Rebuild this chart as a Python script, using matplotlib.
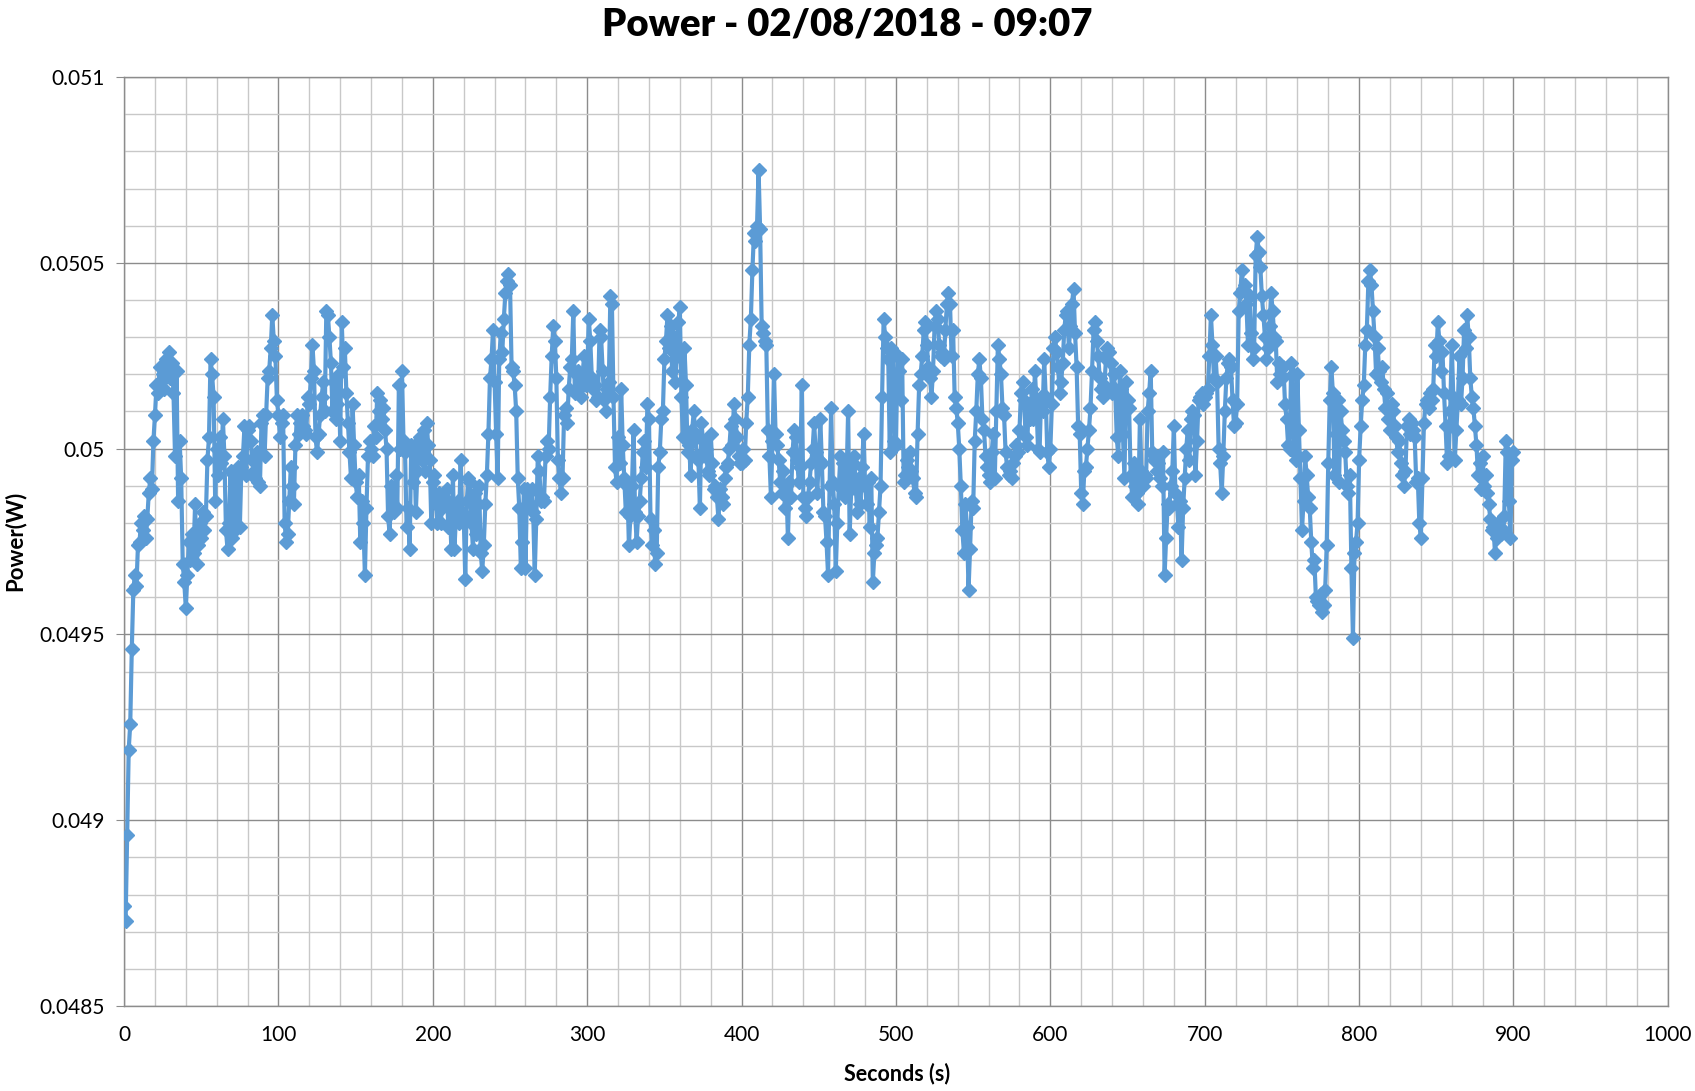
import numpy as np
import matplotlib.pyplot as plt
from matplotlib.ticker import MultipleLocator, FuncFormatter

plt.rcParams['font.family'] = ['Lato', 'DejaVu Sans']

title = 'Power - 02/08/2018 - 09:07'
x_label = 'Seconds (s)'
y_label = 'Power(W)'

# power readings in mW, one per second (0..900 s)
power_mw = [
    48.77, 48.73, 48.96, 49.19, 49.26, 49.46, 49.62, 49.66, 49.63, 49.74, 49.75, 49.80, 49.78, 49.82, 49.76, 49.81, 49.88, 49.92, 49.89, 50.02,
    50.09, 50.17, 50.15, 50.22, 50.18, 50.20, 50.16, 50.24, 50.21, 50.26, 50.19, 50.23, 50.15, 49.98, 50.21, 49.86, 50.02, 49.92, 49.69, 49.64,
    49.57, 49.66, 49.75, 49.70, 49.77, 49.72, 49.85, 49.69, 49.74, 49.80, 49.76, 49.83, 49.78, 49.82, 49.97, 50.03, 50.24, 50.20, 50.14, 49.86,
    50.00, 49.93, 50.03, 49.96, 50.08, 49.98, 49.78, 49.73, 49.80, 49.94, 49.76, 49.93, 49.78, 49.94, 49.95, 49.79, 49.95, 49.98, 50.06, 49.93,
    50.05, 50.06, 50.02, 49.97, 49.94, 49.92, 49.99, 49.91, 49.90, 50.07, 50.09, 49.98, 50.09, 50.19, 50.21, 50.27, 50.36, 50.29, 50.25, 50.13,
    50.09, 50.03, 50.07, 50.09, 49.80, 49.75, 49.77, 49.86, 49.95, 49.90, 49.85, 50.01, 50.09, 50.04, 50.07, 50.09, 50.06, 50.05, 50.04, 50.14,
    50.12, 50.19, 50.28, 50.21, 50.03, 49.99, 50.04, 50.09, 50.14, 50.18, 50.10, 50.37, 50.36, 50.30, 50.23, 50.10, 50.18, 50.08, 50.12, 50.20,
    50.02, 50.34, 50.22, 50.27, 50.15, 50.07, 49.99, 49.92, 50.12, 50.01, 49.91, 49.87, 49.93, 49.75, 49.86, 49.80, 49.66, 49.84, 49.98, 50.02,
    50.00, 49.98, 50.06, 50.03, 50.15, 50.10, 50.13, 50.08, 50.11, 50.05, 50.00, 49.82, 49.77, 49.90, 49.84, 49.83, 49.93, 49.84, 50.17, 50.00,
    50.21, 50.02, 49.99, 49.79, 49.84, 49.73, 50.01, 49.91, 50.00, 49.83, 49.94, 50.02, 50.03, 49.97, 50.05, 49.94, 50.07, 50.01, 49.97, 49.80,
    49.91, 49.93, 49.85, 49.80, 49.88, 49.80, 49.84, 49.87, 49.86, 49.89, 49.79, 49.84, 49.73, 49.93, 49.73, 49.82, 49.86, 49.80, 49.97, 49.83,
    49.82, 49.65, 49.86, 49.92, 49.91, 49.80, 49.73, 49.88, 49.77, 49.85, 49.90, 49.72, 49.67, 49.74, 49.85, 49.93, 50.04, 50.19, 50.24, 50.32,
    50.18, 50.04, 49.92, 50.24, 50.31, 50.26, 50.35, 50.42, 50.45, 50.47, 50.44, 50.22, 50.21, 50.17, 50.10, 49.92, 49.84, 49.68, 49.75, 49.89,
    49.68, 49.89, 49.88, 49.85, 49.89, 49.83, 49.66, 49.81, 49.98, 49.94, 49.86, 49.87, 49.86, 49.98, 50.02, 50.00, 50.14, 50.25, 50.33, 50.29,
    50.19, 49.97, 49.92, 49.88, 49.92, 50.09, 50.11, 50.07, 50.16, 50.22, 50.24, 50.37, 50.15, 50.20, 50.21, 50.16, 50.14, 50.20, 50.25, 50.17,
    50.20, 50.35, 50.29, 50.19, 50.16, 50.17, 50.13, 50.14, 50.32, 50.30, 50.21, 50.13, 50.10, 50.16, 50.18, 50.41, 50.39, 50.14, 49.95, 49.91,
    50.03, 49.96, 50.16, 50.01, 49.92, 49.83, 49.90, 49.74, 49.82, 49.90, 50.05, 49.83, 49.75, 49.82, 49.86, 49.92, 49.99, 50.02, 49.95, 50.12,
    50.08, 49.81, 49.74, 49.78, 49.69, 49.72, 49.95, 49.99, 50.08, 50.10, 50.24, 50.29, 50.36, 50.27, 50.33, 50.21, 50.30, 50.18, 50.25, 50.34,
    50.38, 50.14, 50.03, 50.27, 50.17, 49.99, 50.01, 49.93, 50.05, 50.10, 50.04, 49.98, 49.97, 49.84, 50.07, 50.02, 49.98, 50.00, 49.94, 49.93,
    50.04, 49.96, 49.89, 49.90, 49.87, 49.81, 49.89, 49.87, 49.85, 49.92, 49.95, 49.96, 50.00, 50.06, 50.01, 50.12, 50.08, 50.03, 49.98, 49.96,
    49.96, 50.00, 49.97, 50.07, 50.14, 50.28, 50.35, 50.48, 50.58, 50.56, 50.60, 50.75, 50.59, 50.33, 50.31, 50.29, 50.28, 50.05, 49.98, 49.87,
    50.02, 50.20, 50.04, 50.01, 49.97, 49.91, 49.88, 49.94, 49.84, 49.90, 49.76, 49.91, 49.87, 49.99, 50.05, 50.03, 49.97, 49.91, 49.95, 50.17,
    49.87, 49.84, 49.82, 49.87, 49.91, 49.96, 50.00, 50.07, 49.99, 49.88, 49.97, 50.08, 49.96, 49.83, 49.82, 49.75, 49.66, 49.90, 50.11, 49.91,
    49.85, 49.67, 49.80, 49.90, 49.98, 49.89, 49.96, 49.87, 49.92, 50.10, 49.77, 49.89, 49.96, 49.98, 49.89, 49.83, 49.92, 49.85, 49.95, 50.04,
    49.90, 49.85, 49.91, 49.79, 49.92, 49.64, 49.72, 49.74, 49.76, 49.83, 49.90, 50.14, 50.35, 50.30, 50.27, 50.24, 49.99, 50.27, 50.25, 50.02,
    50.01, 50.25, 50.21, 50.13, 50.24, 49.91, 49.93, 49.97, 49.95, 49.99, 49.94, 49.92, 49.88, 49.87, 50.04, 50.17, 50.20, 50.25, 50.32, 50.34,
    50.28, 50.22, 50.19, 50.14, 50.21, 50.33, 50.37, 50.35, 50.28, 50.25, 50.26, 50.24, 50.32, 50.39, 50.42, 50.39, 50.25, 50.32, 50.14, 50.11,
    50.07, 50.00, 49.90, 49.78, 49.72, 49.85, 49.79, 49.62, 49.73, 49.86, 49.84, 50.02, 50.10, 50.20, 50.24, 50.19, 50.08, 50.05, 49.98, 49.95,
    49.93, 49.91, 49.99, 50.04, 49.92, 50.10, 50.28, 50.24, 50.20, 50.11, 50.09, 49.99, 49.95, 49.93, 49.94, 49.92, 49.96, 49.98, 50.01, 49.99,
    50.05, 50.15, 50.18, 50.13, 50.03, 50.01, 50.12, 50.08, 50.16, 50.08, 50.21, 50.12, 50.00, 49.99, 50.14, 50.10, 50.24, 50.14, 49.99, 49.95,
    50.00, 50.12, 50.27, 50.30, 50.26, 50.22, 50.15, 50.18, 50.23, 50.32, 50.36, 50.37, 50.27, 50.33, 50.39, 50.43, 50.31, 50.22, 50.06, 50.04,
    49.88, 49.85, 49.94, 49.95, 50.00, 50.05, 50.11, 50.21, 50.32, 50.34, 50.29, 50.25, 50.19, 50.16, 50.14, 50.17, 50.24, 50.27, 50.26, 50.23,
    50.15, 50.20, 50.16, 50.03, 49.98, 50.21, 50.16, 50.04, 49.92, 50.18, 50.13, 50.11, 49.93, 49.87, 49.96, 49.90, 49.88, 49.85, 50.08, 49.94,
    49.90, 49.93, 49.92, 50.10, 50.15, 50.21, 49.99, 49.97, 49.98, 49.94, 49.96, 49.92, 49.90, 49.99, 49.66, 49.76, 49.85, 49.84, 49.90, 49.94,
    50.06, 49.88, 49.85, 49.79, 49.86, 49.70, 49.84, 49.92, 50.00, 50.05, 49.97, 50.08, 50.10, 50.09, 49.93, 50.02, 50.13, 50.14, 50.15, 50.12,
    50.14, 50.15, 50.16, 50.25, 50.36, 50.28, 50.19, 50.25, 50.18, 50.00, 49.96, 49.88, 49.98, 50.10, 50.19, 50.23, 50.24, 50.22, 50.13, 50.06,
    50.07, 50.12, 50.37, 50.42, 50.48, 50.43, 50.44, 50.39, 50.28, 50.41, 50.31, 50.24, 50.27, 50.52, 50.57, 50.53, 50.49, 50.41, 50.36, 50.30,
    50.24, 50.27, 50.33, 50.42, 50.37, 50.30, 50.29, 50.18, 50.23, 50.20, 50.19, 50.22, 50.12, 50.08, 50.01, 50.00, 50.23, 50.20, 49.99, 49.97,
    50.20, 50.05, 49.92, 49.78, 49.86, 49.98, 49.93, 49.87, 49.84, 49.75, 49.68, 49.70, 49.60, 49.59, 49.58, 49.61, 49.56, 49.58, 49.62, 49.74,
    49.96, 50.13, 50.22, 50.15, 49.93, 50.04, 50.13, 49.91, 50.10, 50.05, 50.02, 49.99, 49.90, 49.88, 49.93, 49.68, 49.49, 49.72, 49.75, 49.80,
    49.97, 50.06, 50.13, 50.17, 50.28, 50.32, 50.45, 50.48, 50.44, 50.37, 50.30, 50.20, 50.27, 50.21, 50.18, 50.22, 50.16, 50.11, 50.15, 50.08,
    50.05, 50.12, 50.10, 50.06, 50.03, 49.99, 50.02, 49.96, 49.93, 49.90, 49.94, 50.06, 50.08, 50.04, 50.07, 50.05, 50.03, 49.91, 49.92, 49.80,
    49.76, 49.92, 50.07, 50.12, 50.13, 50.11, 50.15, 50.13, 50.16, 50.28, 50.25, 50.34, 50.29, 50.21, 50.26, 50.15, 50.06, 49.96, 49.98, 50.10,
    50.28, 50.14, 49.97, 50.05, 50.13, 50.25, 50.12, 50.19, 50.32, 50.27, 50.36, 50.30, 50.19, 50.14, 50.11, 50.06, 50.01, 49.93, 49.96, 49.89,
    49.98, 49.90, 49.93, 49.88, 49.85, 49.81, 49.78, 49.79, 49.72, 49.76, 49.80, 49.79, 49.77, 49.78, 49.82, 50.02, 49.99, 49.86, 49.76, 49.97,
    49.99,
]

seconds = np.arange(len(power_mw))
power = np.array(power_mw) / 1000.0

fig = plt.figure(figsize=(16.95, 10.91), dpi=100)
ax = fig.add_axes([0.0732, 0.0779, 0.9108, 0.8515])

ax.plot(seconds, power, color='#5B9BD5', lw=3.0, marker='D', ms=7,
        markeredgecolor='#5B9BD5', zorder=3)

ax.set_xlim(0, 1000)
ax.set_ylim(0.0485, 0.051)
ax.xaxis.set_major_locator(MultipleLocator(100))
ax.xaxis.set_minor_locator(MultipleLocator(20))
ax.yaxis.set_major_locator(MultipleLocator(0.0005))
ax.yaxis.set_minor_locator(MultipleLocator(0.0001))
ax.yaxis.set_major_formatter(FuncFormatter(lambda v, p: '{:g}'.format(round(v, 5))))

ax.grid(which='major', color='#8C8C8C', lw=1.0, zorder=1)
ax.grid(which='minor', color='#C8C8C8', lw=1.0, zorder=0)
ax.set_axisbelow(True)
for s in ax.spines.values():
    s.set_color('#8C8C8C')
    s.set_linewidth(1.0)

ax.tick_params(which='major', axis='y', length=6, color='#8C8C8C', labelsize=15, pad=8)
ax.tick_params(which='major', axis='x', length=0, labelsize=15, pad=14)
ax.tick_params(which='minor', length=0)

fig.text(0.5, 0.978, title, ha='center', va='center', fontsize=27.5, fontweight='heavy')
fig.text(0.529, 0.016, x_label, ha='center', va='center', fontsize=15.5, fontweight='bold')
fig.text(0.009, 0.504, y_label, ha='center', va='center', rotation=90, fontsize=16, fontweight='bold')

fig.savefig('out.png', dpi=100)
